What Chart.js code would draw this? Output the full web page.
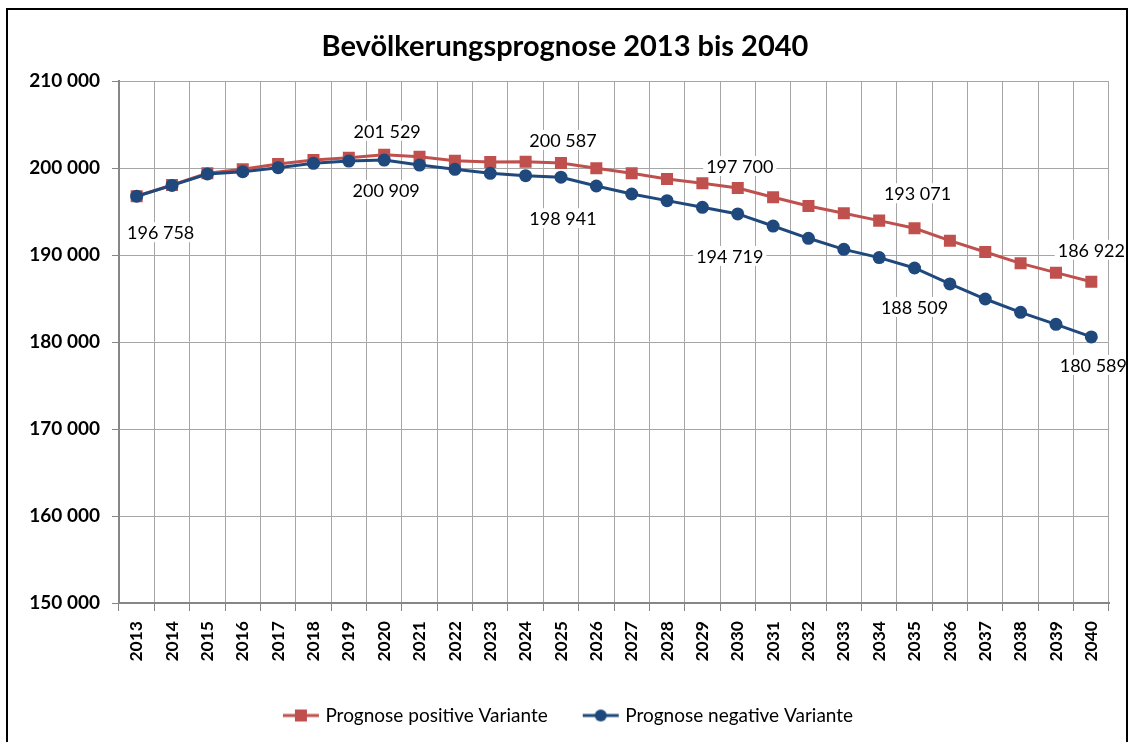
<!DOCTYPE html>
<html><head><meta charset="utf-8">
<script src="https://cdn.jsdelivr.net/npm/chart.js@4/dist/chart.umd.min.js"></script>
<style>html,body{margin:0;padding:0;background:#fff}#wrap{position:absolute;left:0;top:0;width:1129px;height:742px}</style>
</head><body><div id="wrap"><canvas id="c" width="1129" height="742"></canvas></div>
<script>
const title = 'Bevölkerungsprognose 2013 bis 2040';
const years = ['2013','2014','2015','2016','2017','2018','2019','2020','2021','2022','2023','2024','2025','2026','2027','2028','2029','2030','2031','2032','2033','2034','2035','2036','2037','2038','2039','2040'];
const positiveName = 'Prognose positive Variante';
const negativeName = 'Prognose negative Variante';
const positive = [196758,198050,199390,199850,200460,200920,201190,201529,201300,200840,200690,200730,200587,199960,199390,198740,198240,197700,196630,195630,194790,193950,193071,191650,190340,189040,187970,186922];
const negative = [196758,198000,199310,199580,200040,200540,200800,200909,200340,199850,199390,199120,198941,197930,197010,196250,195480,194719,193330,191920,190650,189700,188509,186670,184940,183410,182030,180589];
const yMin = 150000, yMax = 210000, yStep = 10000;
// which points carry a value label
const labelIdx = [0,7,12,17,22,27];

const RED = '#C0504D', BLUE = '#1F497D';
const fmt = v => String(Math.round(v)).replace(/\B(?=(\d{3})+(?!\d))/g, ' ');

function legendIcon(color, shape){
  const c = document.createElement('canvas'); c.width = 38; c.height = 16;
  const g = c.getContext('2d');
  g.strokeStyle = color; g.lineWidth = 3;
  g.beginPath(); g.moveTo(1,8); g.lineTo(37,8); g.stroke();
  g.fillStyle = color;
  if (shape === 'rect') g.fillRect(13,2,12,12);
  else { g.beginPath(); g.arc(19,8,6,0,Math.PI*2); g.fill(); }
  return c;
}
const icons = [legendIcon(RED,'rect'), legendIcon(BLUE,'circle')];

// label placement offsets (styling)
const labelOffsets = {
  0: {0:[24,36]},
  1: {7:[3,-24], 12:[2,-23], 17:[2,-22], 22:[3,-35], 27:[0,-32]},
  2: {7:[2,30], 12:[2,41], 17:[-8,42], 22:[0,39], 27:[2,28]}
};

const framePlugin = {
  id: 'frame',
  afterLayout(chart){
    // center legend under the whole canvas like the original
    if (chart.legend) { chart.legend.left += 15; chart.legend.right += 15; }
  },
  beforeDraw(chart){
    const g = chart.ctx; g.save();
    g.fillStyle = '#fff'; g.fillRect(0,0,chart.width,chart.height);
    g.restore();
  },
  afterDraw(chart){
    const g = chart.ctx; g.save();
    g.strokeStyle = '#000'; g.lineWidth = 2;
    g.strokeRect(7, 9, 1120, 740);
    g.fillStyle = '#000'; g.font = 'bold 29px Lato';
    g.textAlign = 'center'; g.textBaseline = 'middle';
    g.fillText(title, 565, 47);
    g.restore();
  }
};

const valueLabels = {
  id: 'valueLabels',
  afterDatasetsDraw(chart){
    const g = chart.ctx; const xs = chart.scales.x, ys = chart.scales.y;
    g.save();
    g.font = '18px Lato';
    g.textAlign = 'center'; g.textBaseline = 'middle';
    const draw = (vals, idx, off) => {
      const x = xs.getPixelForValue(idx) + off[0];
      const y = ys.getPixelForValue(vals[idx]) + off[1];
      const t = fmt(vals[idx]);
      const w = g.measureText(t).width;
      g.fillStyle = '#fff'; g.fillRect(x - w/2 - 3, y - 10, w + 6, 20);
      g.fillStyle = '#000'; g.fillText(t, x, y + 1);
    };
    labelIdx.forEach(i => {
      if (i === 0) { draw(negative, i, labelOffsets[0][0]); return; }
      draw(positive, i, labelOffsets[1][i]);
      draw(negative, i, labelOffsets[2][i]);
    });
    g.restore();
  }
};

new Chart(document.getElementById('c'), {
  type: 'line',
  data: {
    labels: years,
    datasets: [
      {label: positiveName, data: positive, borderColor: RED, backgroundColor: RED, borderWidth: 3,
       pointStyle: 'rect', pointRadius: 8.5, pointHoverRadius: 8.5, pointBorderWidth: 0, order: 2, tension: 0},
      {label: negativeName, data: negative, borderColor: BLUE, backgroundColor: BLUE, borderWidth: 3,
       pointStyle: 'circle', pointRadius: 6.5, pointHoverRadius: 6.5, pointBorderWidth: 0, order: 1, tension: 0}
    ]
  },
  options: {
    responsive: false, animation: false, devicePixelRatio: 1,
    layout: {padding: {left: 0, right: 20, top: 81, bottom: 7}},
    plugins: {
      title: {display: false},
      legend: {position: 'bottom', labels: {
        color: '#000', font: {family: 'Lato', size: 19}, usePointStyle: true, pointStyleWidth: 30, padding: 38,
        generateLabels(chart){
          return chart.data.datasets.map((d,i) => ({text: d.label, pointStyle: icons[i], fillStyle: d.borderColor,
            strokeStyle: d.borderColor, lineWidth: 0, hidden: false, datasetIndex: i, fontColor: '#000'}));
        }
      }},
      tooltip: {enabled: false}
    },
    scales: {
      x: {
        offset: true,
        grid: {offset: true, color: '#a6a6a6', lineWidth: 1, tickLength: 8, drawTicks: true, tickColor: '#868686'},
        border: {color: '#868686', width: 2},
        ticks: {color: '#000', font: {family: 'Lato', size: 17.5, weight: 'bold'}, minRotation: 90, maxRotation: 90, padding: 10, autoSkip: false},
        afterFit(s){ s.height = 65; }
      },
      y: {
        min: yMin, max: yMax,
        grid: {color: '#a6a6a6', lineWidth: 1, tickLength: 7, tickColor: '#868686'},
        border: {color: '#868686', width: 2},
        ticks: {stepSize: yStep, color: '#000', font: {family: 'Lato', size: 19, weight: 'bold'}, padding: 12,
                callback: v => fmt(v)},
        afterFit(s){ s.width = 119; }
      }
    }
  },
  plugins: [framePlugin, valueLabels]
});
</script></body></html>
